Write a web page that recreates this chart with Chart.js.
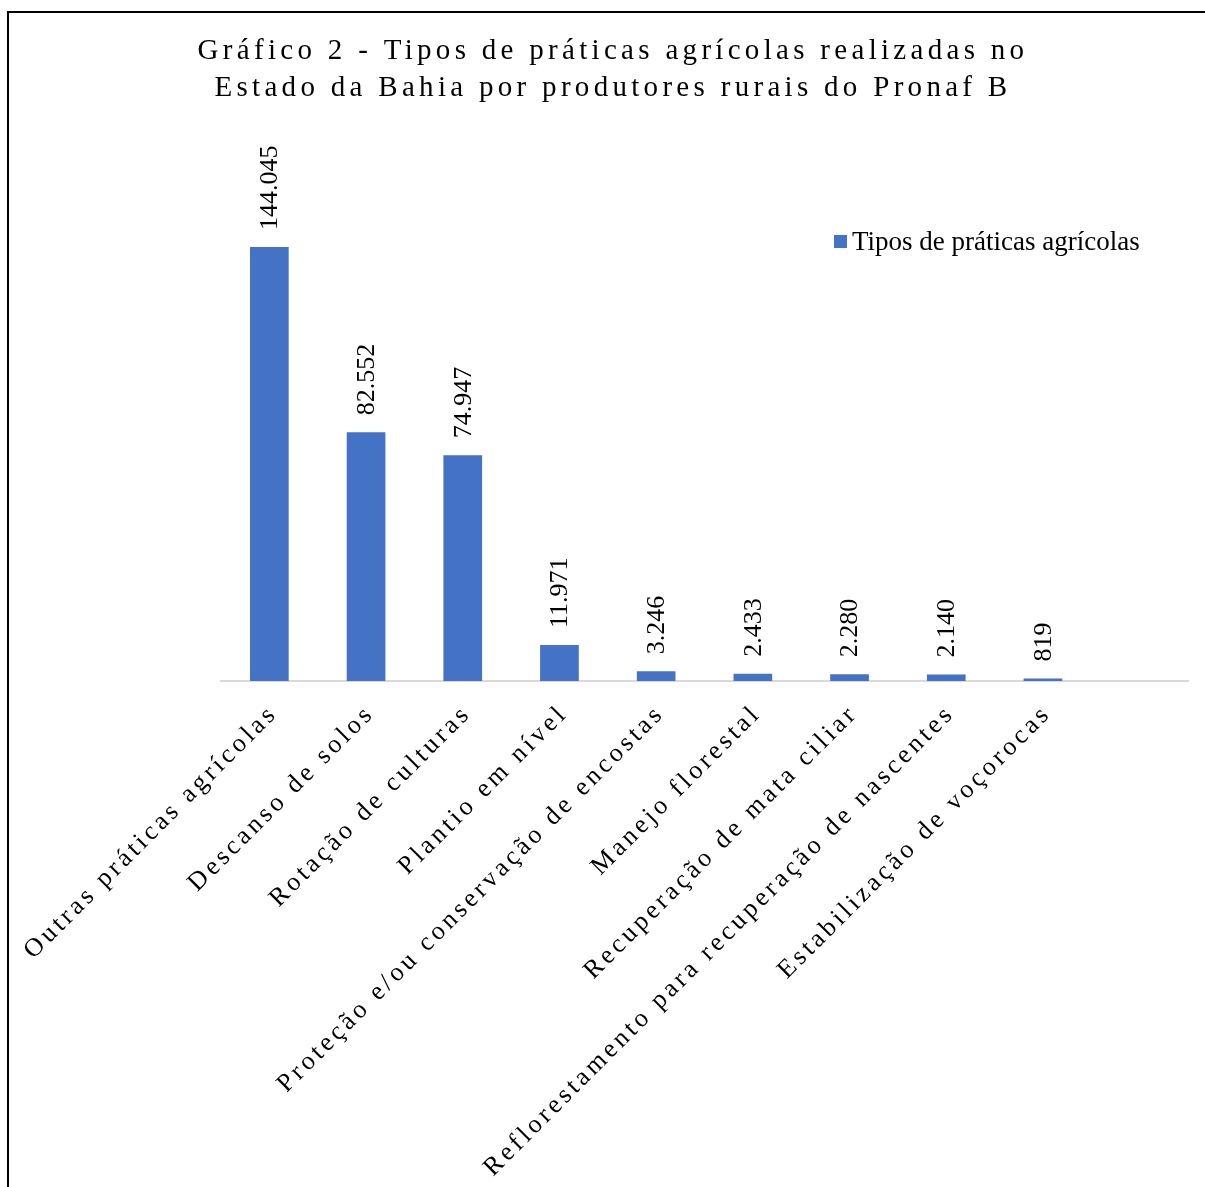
<!DOCTYPE html>
<html>
<head>
<meta charset="utf-8">
<script src="https://cdn.jsdelivr.net/npm/chart.js@4.4.1/dist/chart.umd.min.js"></script>
<style>
  html, body { margin: 0; padding: 0; background: #fff; }
  #wrap { width: 1205px; height: 1187px; }
</style>
</head>
<body>
<div id="wrap"><canvas id="pronafChart" width="1205" height="1187"></canvas></div>
<script>
// Data
const categories = [
  'Outras práticas agrícolas',
  'Descanso de solos',
  'Rotação de culturas',
  'Plantio em nível',
  'Proteção e/ou conservação de encostas',
  'Manejo florestal',
  'Recuperação de mata ciliar',
  'Reflorestamento para recuperação de nascentes',
  'Estabilização de voçorocas',
  ''
];
const practiceCounts = [144045, 82552, 74947, 11971, 3246, 2433, 2280, 2140, 819, null];
const seriesName = 'Tipos de práticas agrícolas';
const titleLines = [
  'Gráfico 2 - Tipos de práticas agrícolas realizadas no',
  'Estado da Bahia por produtores rurais do Pronaf B'
];

const BAR_BLUE = '#4472C4';
const SERIF = '"Liberation Serif", "Times New Roman", serif';

// 144045 -> "144.045"
function fmt(v) {
  return String(v).replace(/\B(?=(\d{3})+(?!\d))/g, '.');
}

// Draws the spaced-out text, value labels, legend and frame
const sheetDecor = {
  id: 'sheetDecor',
  beforeDraw(chart) {
    chart.ctx.letterSpacing = '4.3px'; // picked up by the title
  },
  afterDraw(chart) {
    const ctx = chart.ctx;
    const xScale = chart.scales.x;
    const area = chart.chartArea;
    ctx.save();
    ctx.letterSpacing = '0px';
    ctx.fillStyle = '#000';

    // value labels above bars
    const meta = chart.getDatasetMeta(0);
    ctx.font = '26px ' + SERIF;
    ctx.textAlign = 'left';
    ctx.textBaseline = 'middle';
    meta.data.forEach((bar, i) => {
      const v = practiceCounts[i];
      if (v == null) return;
      ctx.save();
      ctx.translate(bar.x + 1, bar.y - 17);
      ctx.rotate(-Math.PI / 2);
      ctx.fillText(fmt(v), 0, 0);
      ctx.restore();
    });

    // rotated category labels
    ctx.font = '26px ' + SERIF;
    ctx.letterSpacing = '3.6px';
    ctx.textAlign = 'right';
    categories.forEach((c, i) => {
      if (!c) return;
      const px = xScale.getPixelForValue(i);
      ctx.save();
      ctx.translate(px + 2, area.bottom + 31);
      ctx.rotate(-Math.PI / 4);
      ctx.fillText(c, 3.6, 0);
      ctx.restore();
    });

    // legend
    ctx.letterSpacing = '0px';
    const lx = area.right - 354;
    const ly = area.top + 36;
    ctx.fillStyle = BAR_BLUE;
    ctx.fillRect(lx, ly, 13, 13);
    ctx.fillStyle = '#000';
    ctx.font = '27px ' + SERIF;
    ctx.textAlign = 'left';
    ctx.textBaseline = 'alphabetic';
    ctx.fillText(seriesName, lx + 18, ly + 15);

    // frame (left + top)
    ctx.fillRect(7, 11, 2, chart.height - 11);
    ctx.fillRect(7, 11, chart.width - 7, 2);

    ctx.restore();
    ctx.letterSpacing = '0px';
  }
};

const ctx = document.getElementById('pronafChart').getContext('2d');
new Chart(ctx, {
  type: 'bar',
  data: {
    labels: categories,
    datasets: [{
      label: seriesName,
      data: practiceCounts,
      backgroundColor: BAR_BLUE,
      borderWidth: 0,
      barPercentage: 0.4,
      categoryPercentage: 1.0
    }]
  },
  options: {
    responsive: false,
    animation: false,
    layout: {
      padding: { left: 38, right: 17, top: 0, bottom: 0 }
    },
    scales: {
      x: {
        grid: { display: false, drawTicks: false },
        ticks: { display: false },
        border: { display: true, color: '#d9d9d9', width: 2 },
        afterFit(scale) { scale.height = 506; }
      },
      y: {
        min: 0,
        max: 160000,
        grid: { display: false, drawTicks: false },
        ticks: { display: false },
        border: { display: false },
        afterFit(scale) { scale.width = 183; }
      }
    },
    plugins: {
      legend: { display: false },
      tooltip: { enabled: false },
      title: {
        display: true,
        text: titleLines,
        color: '#000',
        font: { family: SERIF, size: 29, weight: 'normal', lineHeight: 37 / 29 },
        padding: { top: 33, bottom: 92 }
      }
    }
  },
  plugins: [sheetDecor]
});
</script>
</body>
</html>
